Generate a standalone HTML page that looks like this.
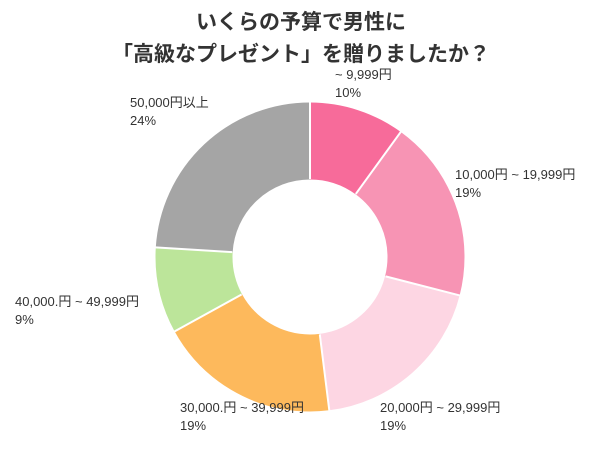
<!DOCTYPE html>
<html><head><meta charset="utf-8"><style>
html,body{margin:0;padding:0;background:#fff;}
body{width:602px;height:451px;overflow:hidden;position:relative;font-family:"Liberation Sans","Noto Sans CJK JP",sans-serif;color:#333;}
.t{position:absolute;left:0;width:602px;text-align:center;font-weight:bold;font-size:21px;color:#333;}
.l{position:absolute;font-size:13px;line-height:18px;color:#333;white-space:nowrap;}
</style></head><body>
<div class="t" style="top:6px">いくらの予算で男性に</div>
<div class="t" style="top:38px">「高級なプレゼント」を贈りましたか？</div>
<svg width="602" height="451" style="position:absolute;left:0;top:0">
<g transform="rotate(-90 310 257)" fill="none" stroke-width="77">
<circle cx="310" cy="257" r="116" stroke="#f76b9a" stroke-dasharray="72.885 728.85" stroke-dashoffset="0"/>
<circle cx="310" cy="257" r="116" stroke="#f794b4" stroke-dasharray="138.48 728.85" stroke-dashoffset="-72.885"/>
<circle cx="310" cy="257" r="116" stroke="#fdd6e3" stroke-dasharray="138.48 728.85" stroke-dashoffset="-211.37"/>
<circle cx="310" cy="257" r="116" stroke="#fdb95c" stroke-dasharray="138.48 728.85" stroke-dashoffset="-349.85"/>
<circle cx="310" cy="257" r="116" stroke="#bce59a" stroke-dasharray="65.6 728.85" stroke-dashoffset="-488.33"/>
<circle cx="310" cy="257" r="116" stroke="#a5a5a5" stroke-dasharray="174.92 728.85" stroke-dashoffset="-553.93"/>
</g>
<g stroke="#fff" stroke-width="2">
<line x1="310" y1="179" x2="310" y2="100"/>
<line x1="355.8" y1="193.9" x2="402.3" y2="129.8"/>
<line x1="385.6" y1="276.4" x2="461.2" y2="295.8"/>
<line x1="319.8" y1="334.4" x2="329.6" y2="412.8"/>
<line x1="241.6" y1="294.5" x2="172.6" y2="332.5"/>
<line x1="232.2" y1="252.1" x2="153.3" y2="247.3"/>
</g>
</svg>
<div class="l" style="left:335px;top:66px">~ 9,999円<br>10%</div>
<div class="l" style="left:455px;top:166px">10,000円 ~ 19,999円<br>19%</div>
<div class="l" style="left:380px;top:399px">20,000円 ~ 29,999円<br>19%</div>
<div class="l" style="left:180px;top:399px">30,000.円 ~ 39,999円<br>19%</div>
<div class="l" style="left:15px;top:293px">40,000.円 ~ 49,999円<br>9%</div>
<div class="l" style="left:130px;top:94px">50,000円以上<br>24%</div>
</body></html>
